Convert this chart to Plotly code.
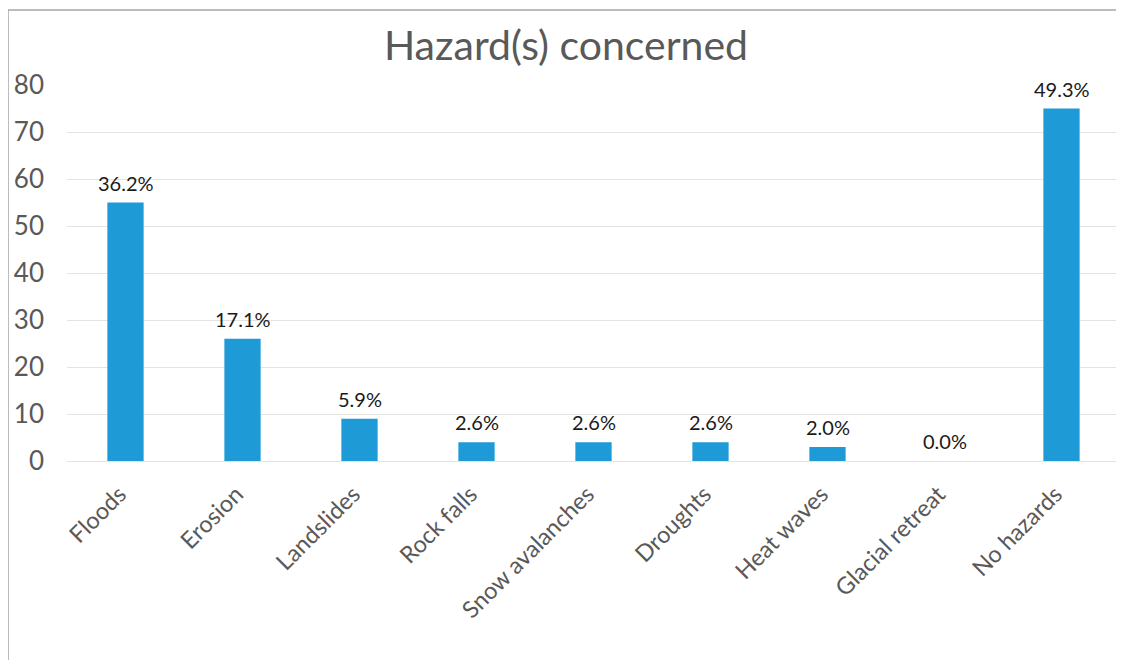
import plotly.graph_objects as go

categories = ["Floods", "Erosion", "Landslides", "Rock falls", "Snow avalanches",
              "Droughts", "Heat waves", "Glacial retreat", "No hazards"]
counts = [55, 26, 9, 4, 4, 4, 3, 0, 75]
pct_labels = ["36.2%", "17.1%", "5.9%", "2.6%", "2.6%", "2.6%", "2.0%", "0.0%", "49.3%"]
y_ticks = [0, 10, 20, 30, 40, 50, 60, 70, 80]

OFF = 8  # page body margin
W, H = 1124 - OFF, 660 - OFF
L, R, T, B = 67 - OFF, 4, 85 - OFF, 199

fig = go.Figure()
fig.add_trace(go.Bar(
    x=categories, y=counts,
    marker=dict(color="#1E9AD6", line=dict(width=0)),
    hoverinfo="skip",
))

for c, v, lab in zip(categories, counts, pct_labels):
    fig.add_annotation(x=c, y=v, text=lab, showarrow=False, yanchor="bottom",
                       yshift=6, font=dict(family="Lato", size=20, color="#1a1a1a"))

pw = W - L - R
ph = H - T - B
fig.add_shape(type="rect", xref="paper", yref="paper",
              x0=(0 - L) / pw, x1=(W + 20 - L) / pw,
              y0=-(H + 20 - T - ph) / ph, y1=1 + (T - 2) / ph,
              line=dict(color="#a6a6a6", width=1.5), layer="below")

fig.update_layout(
    width=W, height=H,
    margin=dict(l=L, r=R, t=T, b=B, autoexpand=False),
    paper_bgcolor="white", plot_bgcolor="white",
    bargap=0.69,
    showlegend=False,
    title=dict(text="Hazard(s) concerned", x=(566 - OFF) / W, xanchor="center",
               y=1 - (46 - OFF) / H, yanchor="middle",
               font=dict(family="Lato", size=41, color="#595959")),
    font=dict(family="Lato", color="#595959"),
)
fig.update_yaxes(range=[0, 80], tickvals=y_ticks, showgrid=True,
                 gridcolor="#e3e3e3", gridwidth=1, zeroline=True,
                 zerolinecolor="#e3e3e3", zerolinewidth=1, showline=False,
                 ticklabelstandoff=22,
                 tickfont=dict(family="Lato", size=26, color="#595959"))
fig.update_xaxes(tickangle=-45, showgrid=False, showline=False, ticks="",
                 ticklabelstandoff=14, ticklabelshift=-6,
                 tickfont=dict(family="Lato", size=23.5, color="#595959"))

fig.write_html("out.html")
